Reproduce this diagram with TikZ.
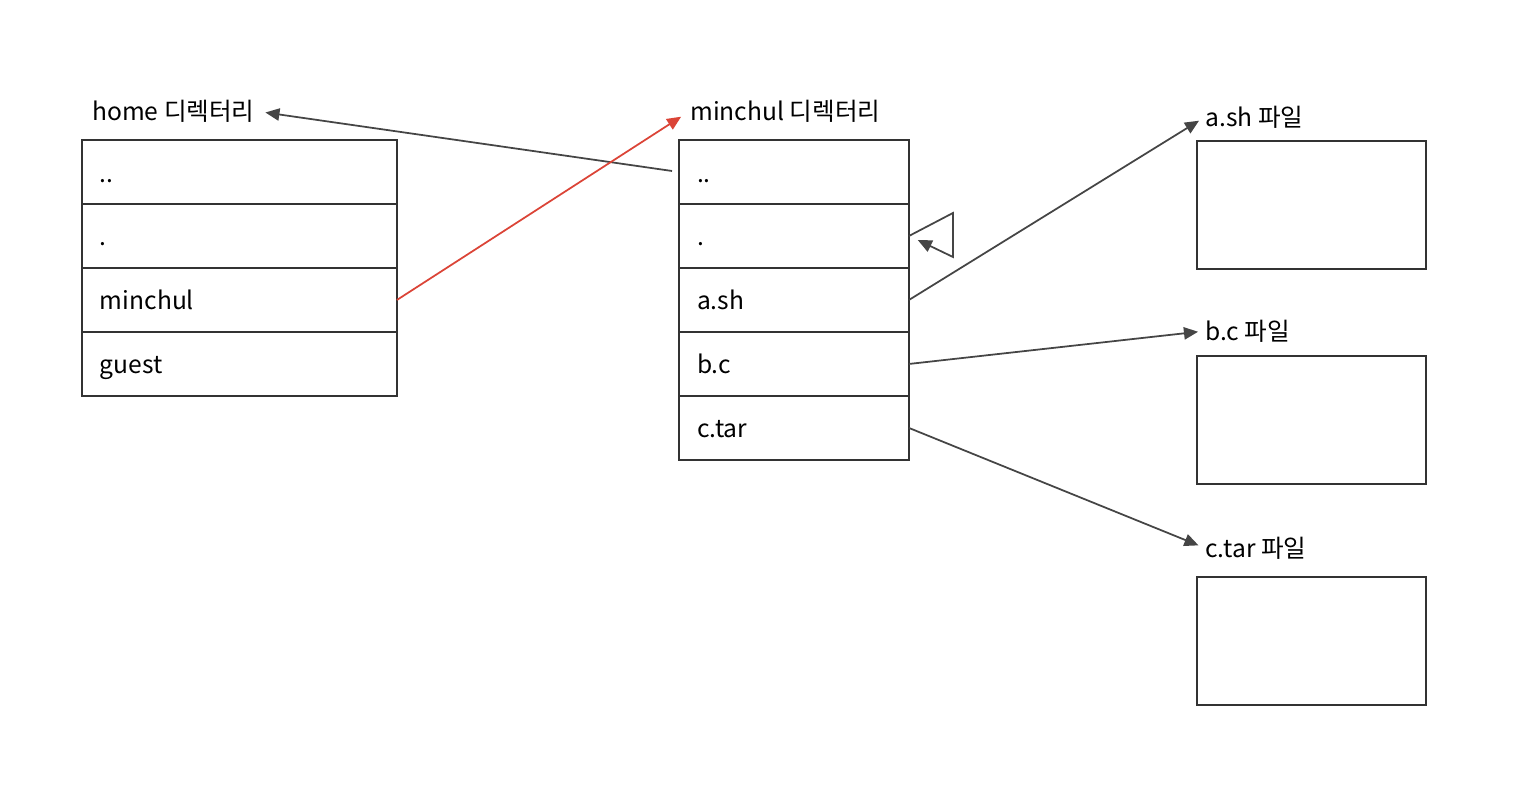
\documentclass[tikz,border=0pt]{standalone}
\usepackage{fontspec}
\setmainfont{Noto Sans CJK KR}
\usetikzlibrary{positioning, arrows.meta}

\begin{document}
\begin{tikzpicture}[
    x=0.02cm, y=-0.02cm,
    font=\fontsize{14}{16}\selectfont,
    row/.style={rectangle, draw=linegray, line width=1.1pt,
                minimum height=1.28cm, align=left, inner xsep=0.36cm,
                inner ysep=0pt, outer sep=0pt,
                text height=2.4ex, text depth=0.3ex},
    homerow/.style={row, text width=5.58cm},
    dirrow/.style={row, text width=3.88cm},
    filebox/.style={rectangle, draw=linegray, line width=1.2pt,
                    minimum width=4.58cm, minimum height=2.56cm},
    caption/.style={anchor=west, inner sep=0pt},
    arrow/.style={line width=1pt, arrowgray,
                  -{Triangle[length=8pt, width=7pt]}},
    linkarrow/.style={arrow, linkred}
]
% Graustufen fuer Kaesten und Pfeile, Rot fuer den Verweis home -> minchul
\definecolor{linegray}{HTML}{333333}
\definecolor{arrowgray}{HTML}{454545}
\definecolor{linkred}{HTML}{DB4437}
\useasboundingbox (0,0) rectangle (1524,784);

% home directory
\node[caption] (homecap) at (92,111) {home 디렉터리};
\node[homerow, anchor=north west] (h1) at (82,140) {..};
\node[homerow, below=0pt of h1] (h2) {.};
\node[homerow, below=0pt of h2] (h3) {minchul};
\node[homerow, below=0pt of h3] (h4) {guest};

% minchul directory
\node[caption] (dircap) at (690,111) {minchul 디렉터리};
\node[dirrow, anchor=north west] (m1) at (679,140) {..};
\node[dirrow, below=0pt of m1] (m2) {.};
\node[dirrow, below=0pt of m2] (m3) {a.sh};
\node[dirrow, below=0pt of m3] (m4) {b.c};
\node[dirrow, below=0pt of m4] (m5) {c.tar};

% files
\node[caption] (acap) at (1205,117) {a.sh 파일};
\node[filebox, anchor=north west] (afile) at (1196,140) {};
\node[caption] (bcap) at (1205,331) {b.c 파일};
\node[filebox, anchor=north west] (bfile) at (1196,355) {};
\node[caption] (ccap) at (1205,548) {c.tar 파일};
\node[filebox, anchor=north west] (cfile) at (1196,576) {};

\draw[arrow, shorten <=4pt, shorten >=6pt] (m1.west) -- (homecap.east);
\draw[linkarrow, shorten >=6pt] (h3.east) -- (dircap.west);
\draw[arrow] (m2.east) -- ++(44,-23) -- ++(0,44)
    -- ([xshift=5pt, yshift=-2.3pt]m2.east);
\draw[arrow, shorten >=4pt] (m3.east) -- (acap.west);
\draw[arrow, shorten >=4pt] (m4.east) -- (bcap.west);
\draw[arrow, shorten >=4pt] (m5.east) -- (ccap.west);
\end{tikzpicture}
\end{document}
